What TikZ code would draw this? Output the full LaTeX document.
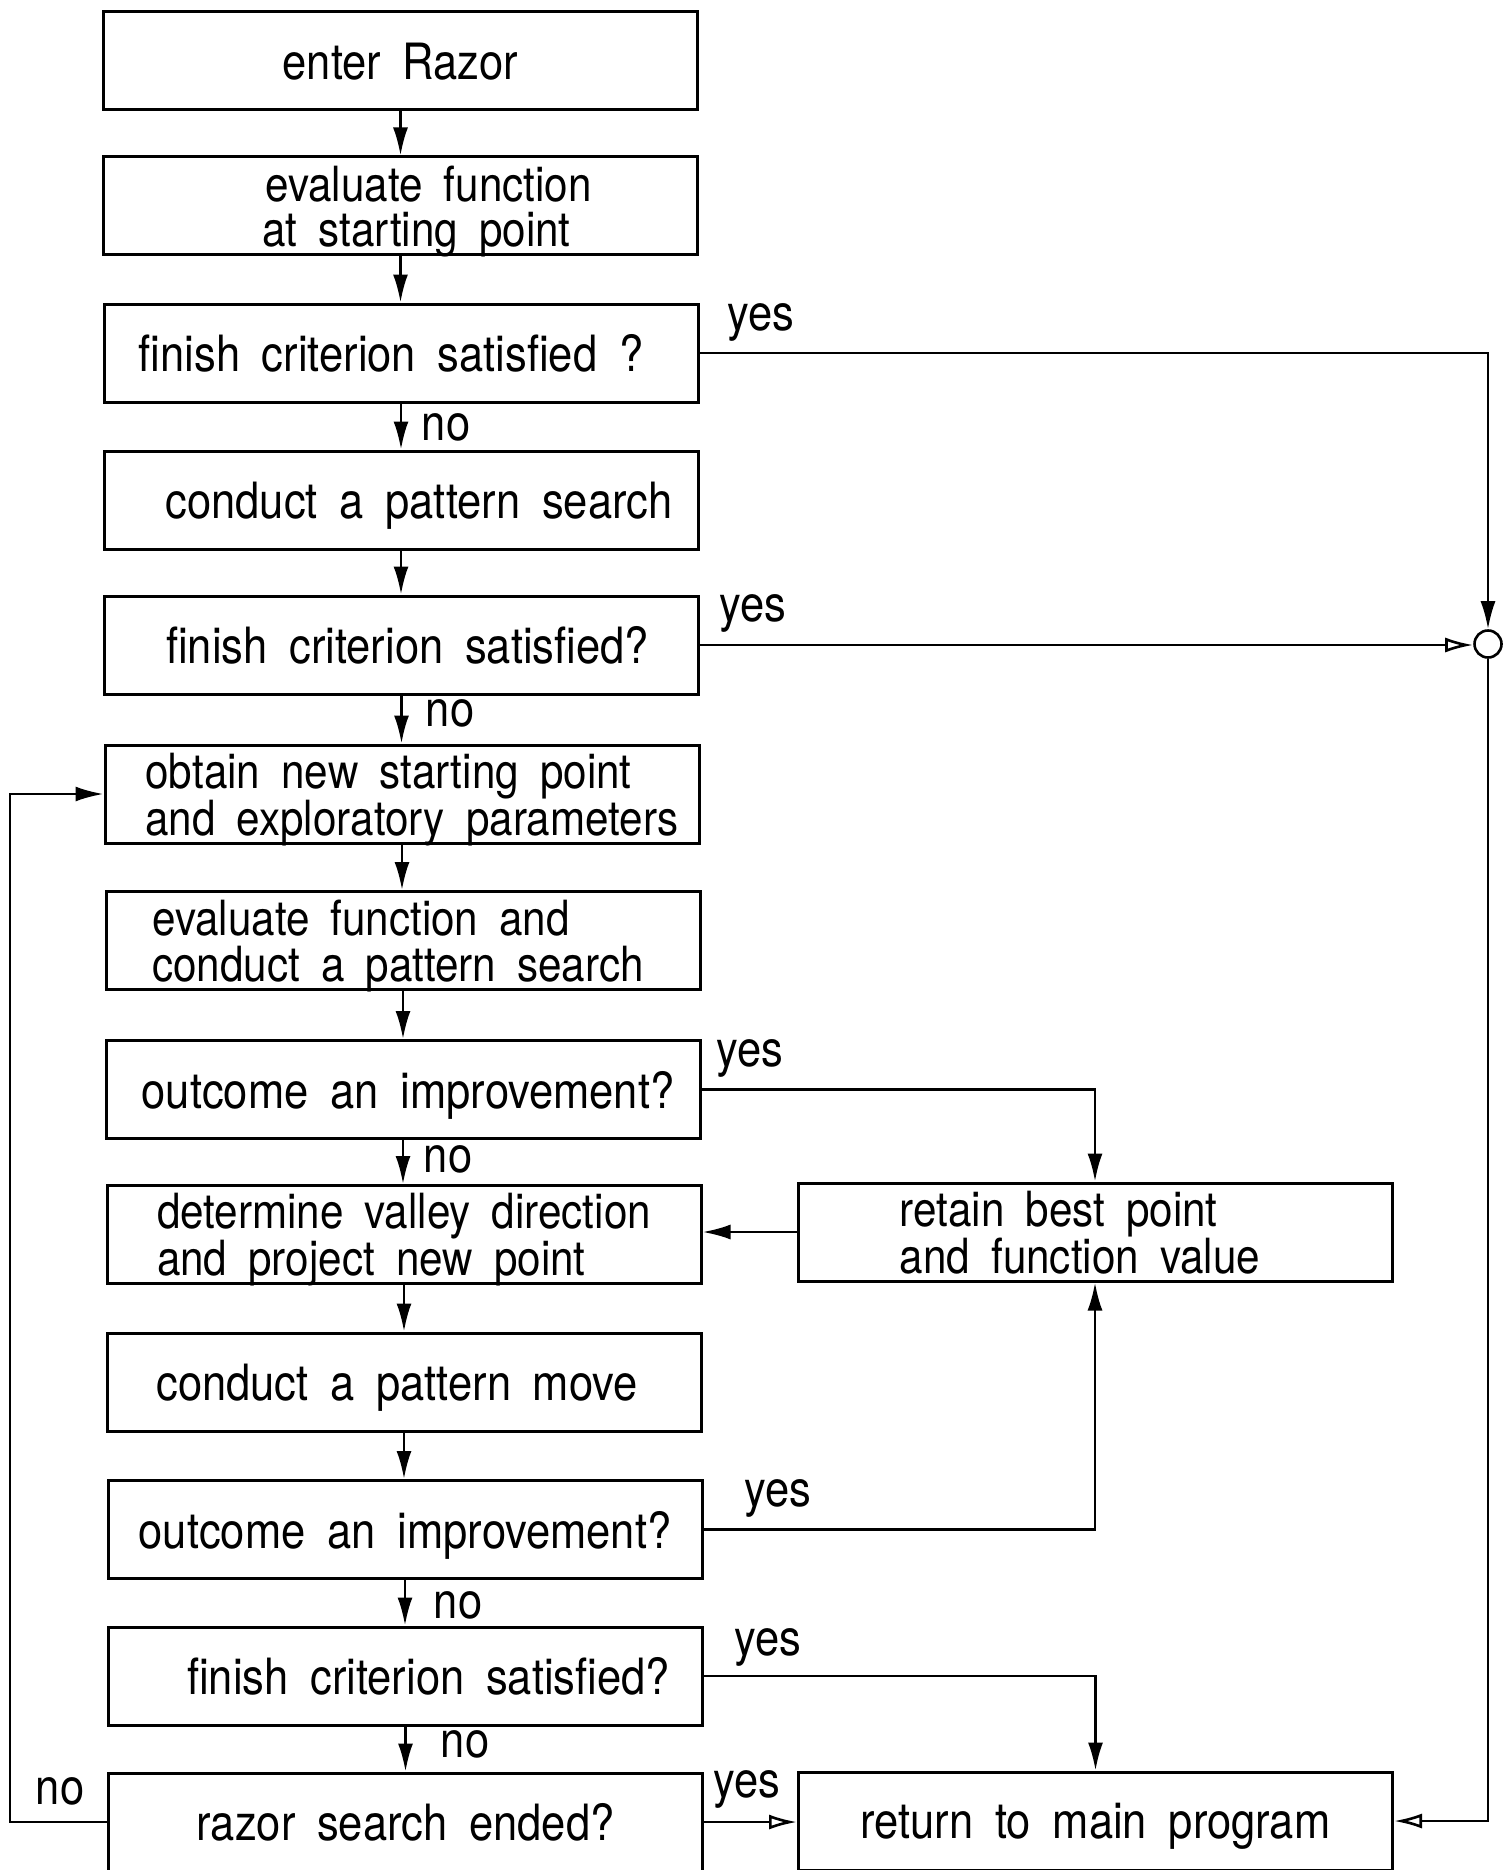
\documentclass[tikz,border=0pt]{standalone}
\usepackage{fontspec}
\setmainfont{TeX Gyre Heros}[FakeStretch=0.87,WordSpace=1.8]
\usetikzlibrary{arrows.meta,calc}
\newcommand\pad[1]{\rule{#1}{0pt}}
\begin{document}
\begin{tikzpicture}[x=1pt,y=-1pt,
  box/.style={draw,line width=3pt,minimum width=594pt,minimum height=98pt,inner sep=0pt,align=center,text depth=0pt,font=\fontsize{50}{44}\selectfont},
  two/.style={font=\fontsize{48.5}{45.5}\selectfont},
  lbl/.style={font=\fontsize{50}{44}\selectfont,inner sep=0pt},
  conn/.style={line width=2.6pt},
  arr/.style={conn,-{Latex[length=28pt,width=15pt]}},
  oarr/.style={conn,-{Latex[open,length=28pt,width=15pt]}}]
\useasboundingbox (0,0) rectangle (1504,1870);

\node[box] (b1) at (400.5,61) {enter Razor};
\node[box,two] (b2) at (400.5,206) {\pad{56pt}evaluate function\\\pad{32pt}at starting point};
\node[box] (b3) at (401,353) {finish criterion satisfied ?\pad{20pt}};
\node[box] (b4) at (401,500) {\pad{36pt}conduct a pattern search};
\node[box] (b5) at (401.5,645) {\pad{12pt}finish criterion satisfied?};
\node[box,two,align=left] (b6) at (402,794) {\pad{20pt}obtain new starting point\\\pad{20pt}and exploratory parameters};
\node[box,two,align=left] (b7) at (403,940.5) {evaluate function and\\conduct a pattern search\pad{10pt}};
\node[box] (b8) at (403,1089.5) {\pad{10pt}outcome an improvement?};
\node[box,two,align=left] (b9) at (404,1234.5) {determine valley direction\\and project new point};
\node[box] (b10) at (404,1382) {conduct a pattern move\pad{14pt}};
\node[box] (b11) at (405,1529.5) {outcome an improvement?};
\node[box] (b12) at (405.5,1676) {\pad{46pt}finish criterion satisfied?};
\node[box] (b13) at (405.5,1822) {razor search ended?};
\node[box,two,align=left] (b14) at (1095,1232) {retain best point\\and function value\pad{30pt}};
\node[box] (b15) at (1095.5,1821) {return to main program};

\node[draw,circle,line width=2.6pt,minimum size=27pt,inner sep=0pt] (j) at (1488,644) {};
\coordinate (L) at (10,0);

\draw[arr] (b1.south) -- (b1.south |- b2.north);
\draw[arr] (b2.south) -- (b2.south |- b3.north);
\draw[arr] (b3.south) -- (b3.south |- b4.north);
\draw[arr] (b4.south) -- (b4.south |- b5.north);
\draw[arr] (b5.south) -- (b5.south |- b6.north);
\draw[arr] (b6.south) -- (b6.south |- b7.north);
\draw[arr] (b7.south) -- (b7.south |- b8.north);
\draw[arr] (b8.south) -- (b8.south |- b9.north);
\draw[arr] (b9.south) -- (b9.south |- b10.north);
\draw[arr] (b10.south) -- (b10.south |- b11.north);
\draw[arr] (b11.south) -- (b11.south |- b12.north);
\draw[arr] (b12.south) -- (b12.south |- b13.north);

\draw[arr] (b3.east) -| (j.north);
\draw[oarr] (b5.east) -- (b5.east -| j.west);
\draw[oarr] (j.south) |- (b15.east);
\draw[arr] (b8.east) -| (b14.north);
\draw[arr] (b14.west) -- (b14.west -| b9.east);
\draw[arr] (b11.east) -| (b14.south);
\draw[arr] (b12.east) -| (b15.north);
\draw[oarr] (b13.east) -- (b13.east -| b15.west);
\draw[arr] (b13.west) -- (b13.west -| L) |- (b6.west);

\node[lbl] (n3) at (446,427) {no};
\node[lbl] (n5) at (450,713) {no};
\node[lbl] (n8) at (448,1159) {no};
\node[lbl] (n11) at (458,1605) {no};
\node[lbl] (n12) at (465,1744) {no};
\node[lbl] (n13) at (60,1791) {no};
\node[lbl] (y3) at (761,322) {yes};
\node[lbl] (y5) at (753,613) {yes};
\node[lbl] (y8) at (750,1058) {yes};
\node[lbl] (y11) at (778,1498) {yes};
\node[lbl] (y12) at (768,1647) {yes};
\node[lbl] (y13) at (747,1789) {yes};
\end{tikzpicture}
\end{document}
